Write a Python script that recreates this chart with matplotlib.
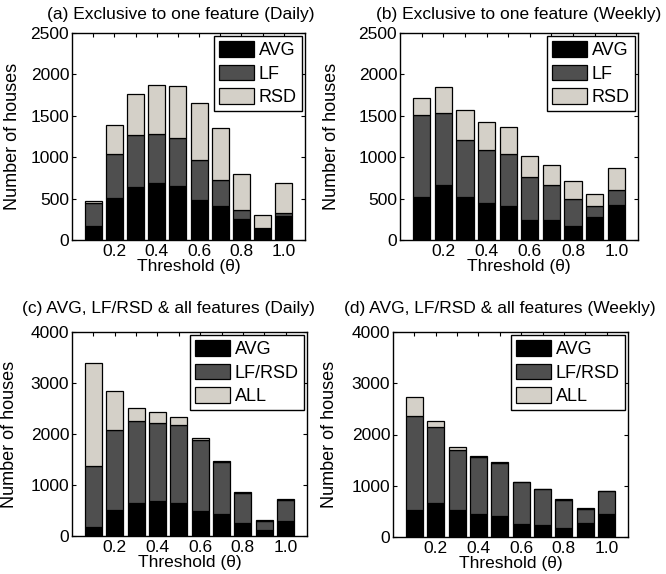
import matplotlib
matplotlib.use('Agg')
import matplotlib.pyplot as plt

plt.rcParams['font.family'] = ['Liberation Sans', 'DejaVu Sans']

thresholds = [0.1, 0.2, 0.3, 0.4, 0.5, 0.6, 0.7, 0.8, 0.9, 1.0]
tick_labels = ['', '0.2', '', '0.4', '', '0.6', '', '0.8', '', '1.0']

# (a) daily, exclusive to one feature
a_avg = [172, 502, 638, 692, 648, 478, 410, 255, 128, 290]
a_lf = [273, 538, 633, 591, 587, 494, 319, 109, 22, 34]
a_rsd = [32, 350, 498, 591, 627, 680, 627, 434, 150, 364]

# (b) weekly, exclusive to one feature
b_avg = [522, 660, 518, 448, 415, 245, 242, 168, 278, 425]
b_lf = [987, 872, 686, 635, 625, 520, 426, 332, 135, 182]
b_rsd = [200, 310, 368, 343, 325, 255, 240, 218, 142, 268]

# (c) daily, AVG / LF-RSD / all
c_avg = [178, 505, 642, 694, 655, 484, 425, 255, 126, 292]
c_lfrsd = [1190, 1567, 1606, 1527, 1530, 1392, 1028, 579, 167, 405]
c_all = [2032, 762, 260, 219, 150, 46, 26, 19, 20, 26]

# (d) weekly, AVG / LF-RSD / all
d_avg = [528, 665, 528, 456, 417, 248, 235, 176, 274, 443]
d_lfrsd = [1837, 1485, 1172, 1101, 1036, 822, 700, 550, 278, 455]
d_all = [371, 117, 52, 20, 13, 11, 10, 10, 8, 8]

c_black = '#000000'
c_dark = '#4f4f4f'
c_light = '#d4d0c8'

FS = 12.5


def stacked(ax, s1, s2, s3, names, title, ymax, ystep, tx, tpad, ylx):
    bottom2 = [p for p in s1]
    bottom3 = [p + q for p, q in zip(s1, s2)]
    kw = dict(width=0.08, edgecolor='black', linewidth=0.9)
    ax.bar(thresholds, s1, color=c_black, label=names[0], **kw)
    ax.bar(thresholds, s2, bottom=bottom2, color=c_dark, label=names[1], **kw)
    ax.bar(thresholds, s3, bottom=bottom3, color=c_light, label=names[2], **kw)
    ax.set_xlim(0.0, 1.1)
    ax.set_ylim(0, ymax)
    ax.set_xticks(thresholds)
    ax.set_xticklabels(tick_labels)
    ax.set_yticks(range(0, ymax + 1, ystep))
    ax.tick_params(direction='in', top=True, right=True, labelsize=FS,
                   length=3, width=0.8, pad=2)
    ax.tick_params(axis='x', pad=3)
    for sp in ax.spines.values():
        sp.set_linewidth(1.0)
    ax.set_xlabel('Threshold (θ)', fontsize=FS, labelpad=0)
    ax.set_ylabel('Number of houses', fontsize=FS + 0.5)
    ax.yaxis.set_label_coords(ylx, 0.5)
    ax.set_title(title, fontsize=12.5, pad=tpad, x=tx)
    leg = ax.legend(loc='upper right', fontsize=13, fancybox=False,
                    edgecolor='black', framealpha=1, borderaxespad=0.15,
                    handlelength=1.95, handleheight=0.95, labelspacing=0.3,
                    handletextpad=0.25, borderpad=0.3)
    leg.get_frame().set_linewidth(1.0)


fig = plt.figure(figsize=(6.66, 5.74), dpi=100)
W, H = 666, 574


def add_ax(x0, x1, y0, y1):
    return fig.add_axes([x0 / W, 1 - y1 / H, (x1 - x0) / W, (y1 - y0) / H])


ax_a = add_ax(72, 305, 33, 240)
ax_b = add_ax(400, 638, 33, 240)
ax_c = add_ax(72, 307, 332, 536)
ax_d = add_ax(393, 628, 332, 537)

stacked(ax_a, a_avg, a_lf, a_rsd, ['AVG', 'LF', 'RSD'],
        '(a) Exclusive to one feature (Daily)', 2500, 500, 0.465, 10, -0.22)
stacked(ax_b, b_avg, b_lf, b_rsd, ['AVG', 'LF', 'RSD'],
        '(b) Exclusive to one feature (Weekly)', 2500, 500, 0.5, 10, -0.25)
stacked(ax_c, c_avg, c_lfrsd, c_all, ['AVG', 'LF/RSD', 'ALL'],
        '(c) AVG, LF/RSD & all features (Daily)', 4000, 1000, 0.41, 14, -0.23)
stacked(ax_d, d_avg, d_lfrsd, d_all, ['AVG', 'LF/RSD', 'ALL'],
        '(d) AVG, LF/RSD & all features (Weekly)', 4000, 1000, 0.455, 14, -0.235)

fig.savefig('out.png', dpi=100)
